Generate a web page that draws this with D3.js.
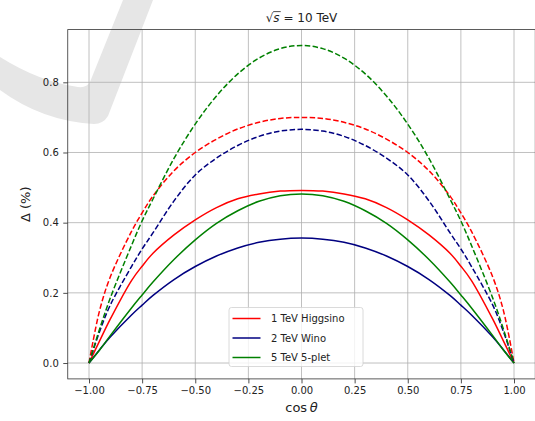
<!DOCTYPE html>
<html>
<head>
<meta charset="utf-8">
<script src="https://cdn.jsdelivr.net/npm/d3@7"></script>
<style>
  html, body { margin: 0; padding: 0; background: #fff; }
  svg { display: block; }
  text { font-family: "DejaVu Sans", sans-serif; fill: #222; }
</style>
</head>
<body>
<script>
// ---- data ----
const cosTheta = [-1, -0.95, -0.9, -0.8, -0.75, -0.7, -0.6, -0.5, -0.4, -0.3, -0.2, -0.1, 0,
                  0.1, 0.2, 0.3, 0.4, 0.5, 0.6, 0.7, 0.75, 0.8, 0.9, 0.95, 1];

// dashed curves
const higgsinoDashed = [0, 0.150, 0.245, 0.375, 0.428, 0.475, 0.548, 0.600, 0.638, 0.667, 0.686, 0.697, 0.700,
                        0.697, 0.686, 0.667, 0.638, 0.600, 0.548, 0.475, 0.428, 0.375, 0.245, 0.150, 0];
const winoDashed     = [0, 0.090, 0.165, 0.275, 0.325, 0.370, 0.462, 0.536, 0.584, 0.620, 0.646, 0.661, 0.666,
                        0.661, 0.646, 0.620, 0.584, 0.536, 0.462, 0.370, 0.325, 0.275, 0.165, 0.090, 0];
const fivepletDashed = [0, 0.097, 0.185, 0.335, 0.405, 0.466, 0.583, 0.681, 0.761, 0.824, 0.869, 0.896, 0.905,
                        0.896, 0.869, 0.824, 0.761, 0.681, 0.583, 0.466, 0.405, 0.335, 0.185, 0.097, 0];
// solid curves
const higgsinoSolid  = [0, 0.063, 0.125, 0.235, 0.276, 0.312, 0.365, 0.408, 0.443, 0.468, 0.482, 0.490, 0.492,
                        0.490, 0.482, 0.468, 0.443, 0.408, 0.365, 0.312, 0.276, 0.235, 0.125, 0.063, 0];
const winoSolid      = [0, 0.038, 0.074, 0.137, 0.165, 0.192, 0.238, 0.275, 0.305, 0.328, 0.344, 0.353, 0.356,
                        0.353, 0.344, 0.328, 0.305, 0.275, 0.238, 0.192, 0.165, 0.137, 0.074, 0.038, 0];
const fivepletSolid  = [0, 0.037, 0.078, 0.157, 0.194, 0.230, 0.295, 0.351, 0.398, 0.434, 0.461, 0.477, 0.482,
                        0.477, 0.461, 0.434, 0.398, 0.351, 0.295, 0.230, 0.194, 0.157, 0.078, 0.037, 0];

const xTicks = [-1.0, -0.75, -0.5, -0.25, 0, 0.25, 0.5, 0.75, 1.0];
const yTicks = [0.0, 0.2, 0.4, 0.6, 0.8];
const legendLabels = ["1 TeV Higgsino", "2 TeV Wino", "5 TeV 5-plet"];
const colors = ["#ff0000", "#000080", "#008000"];

const W = 535, H = 421;
const svg = d3.select("body").append("svg").attr("width", W).attr("height", H);

// watermark
svg.append("path")
  .attr("d", "M123,0 L153,0 L108,116 Q103,124 94,124 Q42,121 0,90 L0,57 Q40,82 78,87 Q87,88 90,82 Z")
  .attr("fill", "#e6e6e6");

const x = d3.scaleLinear().domain([-1.1, 1.1]).range([67.75, 535.25]);
const y = d3.scaleLinear().domain([-0.04525, 0.95025]).range([378.9, 29.6]);

const plotL = 67.75, plotR = 535.25, plotT = 29.6, plotB = 378.9;

// grid
const grid = svg.append("g");
xTicks.forEach(t => grid.append("line")
  .attr("x1", x(t)).attr("x2", x(t)).attr("y1", plotT).attr("y2", plotB)
  .attr("stroke", "#b0b0b0").attr("stroke-width", 0.8));
yTicks.forEach(t => grid.append("line")
  .attr("x1", plotL).attr("x2", plotR).attr("y1", y(t)).attr("y2", y(t))
  .attr("stroke", "#b0b0b0").attr("stroke-width", 0.8));

// curves
const line = d3.line().x(d => x(d[0])).y(d => y(d[1])).curve(d3.curveCatmullRom.alpha(0.5));
const series = [
  { vals: higgsinoSolid, c: colors[0], dash: null },
  { vals: winoSolid, c: colors[1], dash: null },
  { vals: fivepletSolid, c: colors[2], dash: null },
  { vals: higgsinoDashed, c: colors[0], dash: "5.5,2.4" },
  { vals: winoDashed, c: colors[1], dash: "5.5,2.4" },
  { vals: fivepletDashed, c: colors[2], dash: "5.5,2.4" }
];
series.forEach(s => {
  svg.append("path")
    .datum(cosTheta.map((c, i) => [c, s.vals[i]]))
    .attr("d", line)
    .attr("fill", "none")
    .attr("stroke", s.c)
    .attr("stroke-width", 1.5)
    .attr("stroke-dasharray", s.dash);
});

// axes
const xAxis = d3.axisBottom(x).tickValues(xTicks).tickSize(4.5).tickPadding(4)
  .tickFormat(d => d3.format(".2f")(d).replace("-", "\u2212"));
const gx = svg.append("g").attr("transform", `translate(0,${plotB})`).call(xAxis);
const yAxis = d3.axisLeft(y).tickValues(yTicks).tickSize(4.5).tickPadding(4.5)
  .tickFormat(d3.format(".1f"));
const gy = svg.append("g").attr("transform", `translate(${plotL},0)`).call(yAxis);
[gx, gy].forEach(g => {
  g.select(".domain").remove();
  g.selectAll(".tick line").attr("stroke", "#222").attr("stroke-width", 0.8);
  g.selectAll(".tick text").attr("font-size", 10).attr("fill", "#222")
    .attr("font-family", "DejaVu Sans, sans-serif");
});

// frame (left, top, bottom; right edge lies just off the canvas)
svg.append("rect").attr("x", plotL).attr("y", plotT)
  .attr("width", plotR - plotL).attr("height", plotB - plotT)
  .attr("fill", "none").attr("stroke", "#333").attr("stroke-width", 0.8);

// axis labels
const xl = svg.append("text").attr("x", x(0)).attr("y", 411.5)
  .attr("text-anchor", "middle").attr("font-size", 13);
xl.append("tspan").text("cos\u2009");
xl.append("tspan").attr("font-style", "italic").text("\u03b8");

svg.append("text")
  .attr("transform", `translate(30,${(plotT + plotB) / 2}) rotate(-90)`)
  .attr("text-anchor", "middle").attr("font-size", 13)
  .text("\u0394 (%)");

// subtitle sqrt(s) = 10 TeV
const st = svg.append("text").attr("x", x(0)).attr("y", 22)
  .attr("text-anchor", "middle").attr("font-size", 12);
st.append("tspan").text("\u221a");
st.append("tspan").attr("font-style", "italic").text("s");
st.append("tspan").text(" = 10 TeV");
const bb = st.node().getBBox();
svg.append("line").attr("x1", bb.x + 7.5).attr("x2", bb.x + 15)
  .attr("y1", 11.6).attr("y2", 11.6).attr("stroke", "#222").attr("stroke-width", 0.8);

// legend
const lg = svg.append("g");
lg.append("rect").attr("x", 229).attr("y", 307.5).attr("width", 134).attr("height", 59)
  .attr("rx", 2.5).attr("fill", "#fff").attr("fill-opacity", 0.8)
  .attr("stroke", "#d0d0d0").attr("stroke-width", 0.8);
legendLabels.forEach((lab, i) => {
  const yy = 318.5 + i * 19.5;
  lg.append("line").attr("x1", 232.5).attr("x2", 260.5).attr("y1", yy).attr("y2", yy)
    .attr("stroke", colors[i]).attr("stroke-width", 1.5);
  lg.append("text").attr("x", 271).attr("y", yy + 3.8).attr("font-size", 10).text(lab);
});
</script>
</body>
</html>
